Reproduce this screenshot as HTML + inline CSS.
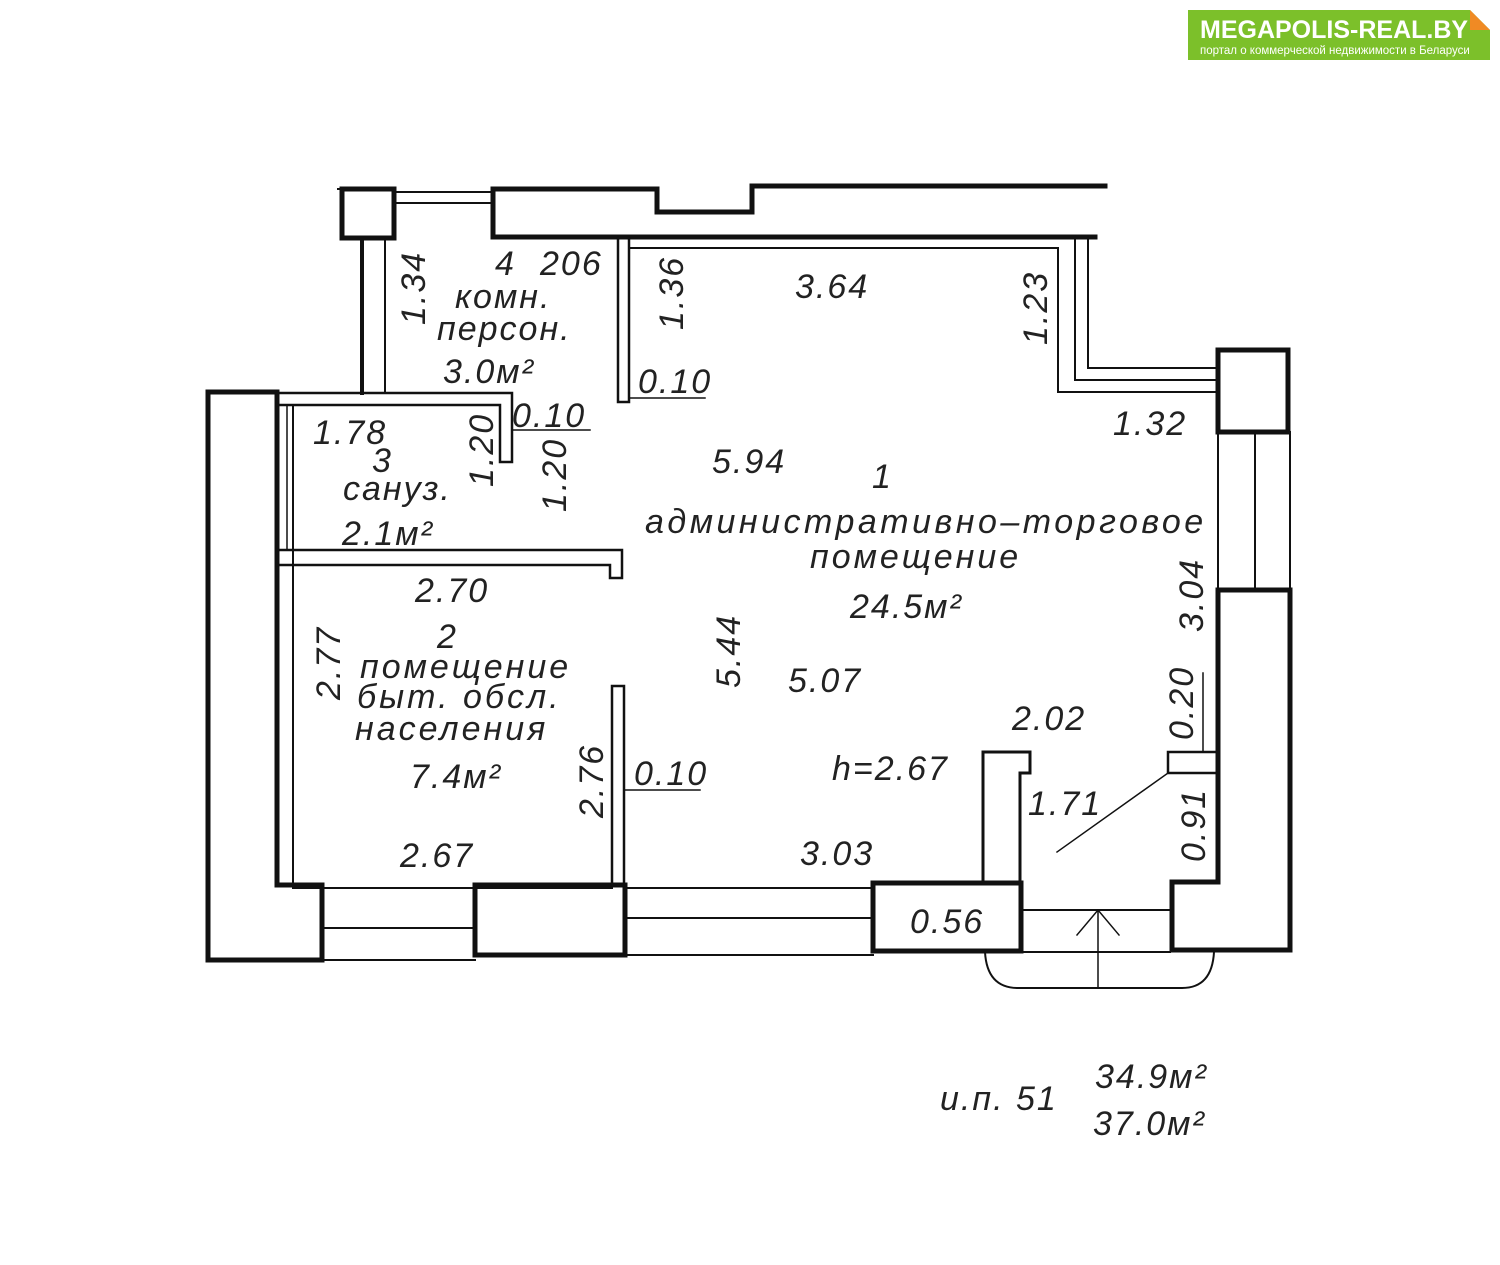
<!DOCTYPE html>
<html><head><meta charset="utf-8"><style>
html,body{margin:0;padding:0;background:#fff;}
svg{display:block}
.t{font-family:"Liberation Sans","DejaVu Sans",sans-serif;font-style:italic;fill:#222;font-size:34px;letter-spacing:2px;}
</style></head><body>
<svg width="1500" height="1265" viewBox="0 0 1500 1265" xmlns="http://www.w3.org/2000/svg">
<!-- logo -->
<rect x="1188" y="10" width="302" height="50" fill="#7cc02a"/>
<polygon points="1470,10 1490,30 1490,10" fill="#fff"/>
<polygon points="1470,10 1490,30 1470,30" fill="#f08a24"/>
<text x="1200" y="38" font-family="Liberation Sans,sans-serif" font-weight="bold" font-size="25" fill="#fff">MEGAPOLIS-REAL.BY</text>
<text x="1200" y="54" font-family="Liberation Sans,sans-serif" font-size="11.5" fill="#fff">портал о коммерческой недвижимости в Беларуси</text>

<g fill="none" stroke="#111" stroke-linecap="square">
<!-- top walls -->
<line x1="338" y1="189" x2="395" y2="189" stroke-width="2"/>
<rect x="342" y="189" width="52" height="49" stroke-width="5"/>
<line x1="395" y1="192" x2="493" y2="192" stroke-width="2"/>
<line x1="395" y1="203" x2="493" y2="203" stroke-width="2"/>
<polyline points="493,237 493,189 657,189 657,212 752,212 752,186 1105,186" stroke-width="5"/>
<line x1="493" y1="237" x2="1095" y2="237" stroke-width="5"/>
<!-- room4 left wall -->
<line x1="362" y1="238" x2="362" y2="393" stroke-width="4"/>
<line x1="385" y1="238" x2="385" y2="393" stroke-width="2"/>
<!-- room 4 right partition -->
<rect x="618" y="238" width="11" height="164" stroke-width="2.5"/>
<!-- room1 top/right -->
<polyline points="630,248 1058,248 1058,392 1218,392" stroke-width="2"/>
<polyline points="1075,237 1075,380 1218,380" stroke-width="2"/>
<polyline points="1088,237 1088,368 1218,368" stroke-width="2"/>
<!-- right block -->
<rect x="1218" y="350" width="70" height="82" stroke-width="5"/>
<line x1="1218" y1="432" x2="1218" y2="590" stroke-width="2"/>
<line x1="1255" y1="432" x2="1255" y2="590" stroke-width="2"/>
<line x1="1290" y1="432" x2="1290" y2="590" stroke-width="2"/>
<polygon points="1218,590 1290,590 1290,950 1172,950 1172,882 1218,882" stroke-width="5"/>
<rect x="1168" y="752" width="50" height="21" stroke-width="2.5"/>
<line x1="1168" y1="773" x2="1057" y2="852" stroke-width="1.5"/>
<!-- pillar -->
<polyline points="983,882 983,752 1030,752 1030,773 1020,773 1020,882" stroke-width="3"/>
<rect x="873" y="883" width="148" height="68" stroke-width="5"/>
<!-- door -->
<line x1="1022" y1="910" x2="1170" y2="910" stroke-width="2"/>
<line x1="1022" y1="952" x2="1170" y2="952" stroke-width="2"/>
<line x1="1098" y1="910" x2="1098" y2="988" stroke-width="1.5"/>
<polyline points="1077,935 1098,910 1119,935" stroke-width="1.5"/>
<path d="M985,952 Q987,988 1018,988 L1182,988 Q1212,988 1214,952" stroke-width="2"/>
<!-- left big wall -->
<polygon points="208,392 277,392 277,885 322,885 322,960 208,960" stroke-width="5"/>
<line x1="287" y1="405" x2="287" y2="550" stroke-width="1.5"/>
<line x1="293" y1="405" x2="293" y2="885" stroke-width="2"/>
<!-- bottom windows -->
<line x1="322" y1="928" x2="475" y2="928" stroke-width="2"/>
<line x1="322" y1="960" x2="475" y2="960" stroke-width="2"/>
<line x1="293" y1="888" x2="612" y2="888" stroke-width="2"/>
<rect x="475" y="885" width="150" height="70" stroke-width="5"/>
<line x1="625" y1="888" x2="873" y2="888" stroke-width="2"/>
<line x1="625" y1="918" x2="873" y2="918" stroke-width="2"/>
<line x1="625" y1="955" x2="873" y2="955" stroke-width="2"/>
<!-- room2 right partition -->
<rect x="612" y="686" width="12" height="199" stroke-width="2.5"/>
<!-- room2/3 partition -->
<polygon points="277,550 622,550 622,578 610,578 610,565 277,565" stroke-width="2.5"/>
<!-- room3 top partition -->
<polygon points="277,393 512,393 512,462 500,462 500,405 277,405" stroke-width="2.5"/>
<!-- leader lines -->
<line x1="630" y1="398" x2="705" y2="398" stroke-width="1.5"/>
<line x1="512" y1="430" x2="590" y2="430" stroke-width="1.5"/>
<line x1="624" y1="790" x2="700" y2="790" stroke-width="1.5"/>
<line x1="1203" y1="673" x2="1203" y2="752" stroke-width="1.5"/>
</g>

<g class="t">
<text x="495" y="275">4</text>
<text x="540" y="275">206</text>
<text x="455" y="308">комн.</text>
<text x="437" y="340">персон.</text>
<text x="443" y="383">3.0м²</text>
<text x="795" y="298">3.64</text>
<text x="638" y="393">0.10</text>
<text x="512" y="427">0.10</text>
<text x="313" y="444">1.78</text>
<text x="372" y="472">3</text>
<text x="343" y="500">сануз.</text>
<text x="342" y="545">2.1м²</text>
<text x="712" y="473">5.94</text>
<text x="872" y="488">1</text>
<text x="645" y="533" style="letter-spacing:3.5px">административно–торговое</text>
<text x="810" y="568" style="letter-spacing:3px">помещение</text>
<text x="850" y="618">24.5м²</text>
<text x="1113" y="435">1.32</text>
<text x="415" y="602">2.70</text>
<text x="437" y="648">2</text>
<text x="360" y="678" style="letter-spacing:3px">помещение</text>
<text x="357" y="708" style="letter-spacing:3px">быт. обсл.</text>
<text x="355" y="740" style="letter-spacing:3px">населения</text>
<text x="410" y="788">7.4м²</text>
<text x="788" y="692">5.07</text>
<text x="1012" y="730">2.02</text>
<text x="832" y="780">h=2.67</text>
<text x="1028" y="815">1.71</text>
<text x="634" y="785">0.10</text>
<text x="400" y="867">2.67</text>
<text x="800" y="865">3.03</text>
<text x="910" y="933">0.56</text>
<text x="940" y="1110">и.п. 51</text>
<text x="1095" y="1088">34.9м²</text>
<text x="1093" y="1135">37.0м²</text>
<text transform="translate(425,325) rotate(-90)">1.34</text>
<text transform="translate(683,330) rotate(-90)">1.36</text>
<text transform="translate(1047,345) rotate(-90)">1.23</text>
<text transform="translate(493,487) rotate(-90)">1.20</text>
<text transform="translate(566,512) rotate(-90)">1.20</text>
<text transform="translate(340,700) rotate(-90)">2.77</text>
<text transform="translate(740,688) rotate(-90)">5.44</text>
<text transform="translate(603,818) rotate(-90)">2.76</text>
<text transform="translate(1203,632) rotate(-90)">3.04</text>
<text transform="translate(1193,740) rotate(-90)">0.20</text>
<text transform="translate(1205,862) rotate(-90)">0.91</text>
</g>
</svg>
</body></html>
